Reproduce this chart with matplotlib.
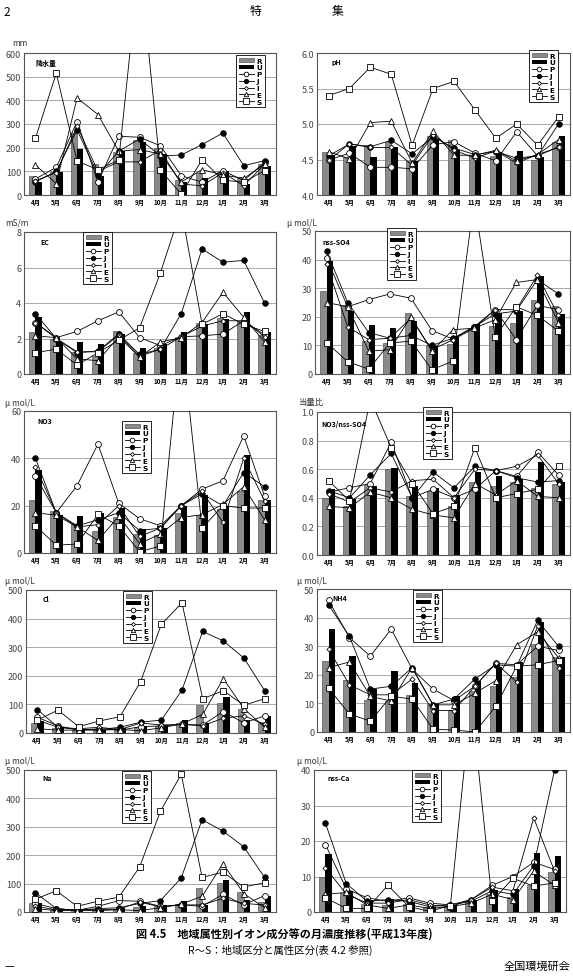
import matplotlib
matplotlib.use("Agg")
import matplotlib.pyplot as plt
import numpy as np
from matplotlib.lines import Line2D
from matplotlib.patches import Patch

plt.rcParams["font.family"] = ["Noto Sans CJK JP", "DejaVu Sans"]

months = ["4月", "5月", "6月", "7月", "8月", "9月", "10月", "11月", "12月", "1月", "2月", "3月"]
series = ["R", "U", "P", "J", "I", "E", "S"]

# 降水量 (mm)
rain_R = [79, 96, 262, 131, 180, 232, 199, 65, 93, 103, 76, 131]
rain_U = [54, 99, 194, 79, 187, 222, 173, 54, 70, 103, 46, 121]
rain_P = [68, 117, 310, 55, 248, 244, 208, 82, 54, 103, 61, 138]
rain_J = [55, 100, 275, 85, 185, 237, 165, 169, 213, 262, 124, 145]
rain_I = [60, 95, 290, 100, 140, 140, 190, 46, 39, 95, 39, 130]
rain_E = [127, 48, 410, 340, 185, 192, 173, 55, 107, 85, 70, 130]
rain_S = [240, 515, 143, 107, 148, 990, 105, 4, 149, 63, 54, 103]

# pH
ph_R = [4.60, 4.54, 4.71, 4.75, 4.48, 4.83, 4.77, 4.56, 4.55, 4.49, 4.49, 4.74]
ph_U = [4.56, 4.69, 4.53, 4.67, 4.48, 4.79, 4.64, 4.56, 4.60, 4.62, 4.53, 4.83]
ph_P = [4.49, 4.59, 4.39, 4.39, 4.37, 4.71, 4.75, 4.59, 4.48, 4.89, 4.55, 4.68]
ph_J = [4.55, 4.72, 4.68, 4.77, 4.58, 4.82, 4.66, 4.57, 4.61, 4.52, 4.55, 5.00]
ph_I = [4.49, 4.72, 4.67, 4.67, 4.42, 4.85, 4.63, 4.52, 4.62, 4.45, 4.57, 4.67]
ph_E = [4.61, 4.51, 5.02, 5.04, 4.45, 4.90, 4.56, 4.56, 4.63, 4.48, 4.57, 4.78]
ph_S = [5.4, 5.5, 5.8, 5.7, 4.7, 5.5, 5.6, 5.2, 4.8, 5.0, 4.7, 5.1]

# EC (mS/m)
ec_R = [2.34, 2.0, 1.22, 1.03, 2.43, 1.18, 1.44, 2.06, 2.9, 3.13, 3.0, 2.19]
ec_U = [3.22, 1.82, 1.82, 1.69, 2.25, 1.44, 1.69, 2.34, 2.81, 3.09, 3.5, 2.38]
ec_P = [2.9, 2.05, 2.4, 3.0, 3.5, 2.05, 1.6, 2.1, 2.15, 2.25, 3.0, 2.2]
ec_J = [3.4, 2.0, 1.2, 1.3, 2.25, 1.1, 1.4, 3.4, 7.05, 6.3, 6.4, 4.0]
ec_I = [2.9, 2.0, 1.25, 1.25, 2.2, 1.0, 1.4, 2.1, 2.7, 3.0, 3.0, 2.1]
ec_E = [2.15, 2.05, 0.85, 0.75, 2.1, 0.95, 1.8, 2.05, 2.9, 4.6, 3.2, 1.8]
ec_S = [1.2, 1.4, 0.5, 1.2, 1.9, 2.6, 5.7, 9.3, 2.8, 3.4, 2.8, 2.4]

# nss-SO4 (umol/L)
so4_R = [29, 24, 11.5, 11, 21.5, 10, 10.4, 15.6, 16.8, 18, 26, 23.8]
so4_U = [39.5, 22, 17, 16, 18.5, 9.8, 13, 17.4, 21.4, 22, 34.3, 20.9]
so4_P = [40.5, 23.5, 26, 28, 26.5, 15.2, 12.2, 16.5, 22.5, 12, 24, 22.5]
so4_J = [43, 25, 14.5, 12.5, 13.5, 10, 12.5, 16.5, 21, 22, 33, 28]
so4_I = [38.5, 16.5, 12, 12.5, 19.5, 8.5, 12, 16, 22.5, 22.5, 34.5, 20.5]
so4_E = [25, 23.5, 8, 8.5, 20, 8, 15.5, 16, 19, 32, 33, 18]
so4_S = [11, 4.3, 1.7, 10.8, 11.5, 1.5, 4.5, 61, 13, 23.5, 20.5, 15]

# NO3 (umol/L)
no3_R = [22.5, 17.6, 12.4, 9.2, 15.2, 7.9, 7.7, 17, 16.2, 18.5, 26.2, 22.3]
no3_U = [35, 16.2, 15.6, 17, 19, 10.3, 10.6, 19.7, 24.6, 19.7, 41.5, 22.5]
no3_P = [32.5, 17, 28.5, 46, 21, 14.5, 11.5, 20, 27, 30.5, 49.5, 24]
no3_J = [40, 17, 11.5, 14, 17, 9.5, 10.5, 20, 25, 20, 34, 28]
no3_I = [36.5, 17, 11, 12, 20, 7, 10.5, 20, 26, 13, 40, 22]
no3_E = [17, 16, 11, 5.3, 15.5, 4, 8, 15, 16.2, 20.5, 28, 14]
no3_S = [11.5, 3.3, 3.8, 16.3, 11.5, 0.5, 3, 93, 10.5, 20, 19, 19]

# NO3/nss-SO4 (当量比)
ratio_R = [0.40, 0.34, 0.49, 0.60, 0.41, 0.45, 0.34, 0.51, 0.48, 0.51, 0.47, 0.50]
ratio_U = [0.46, 0.39, 0.48, 0.61, 0.48, 0.47, 0.42, 0.58, 0.55, 0.53, 0.65, 0.51]
ratio_P = [0.44, 0.47, 0.50, 0.79, 0.40, 0.46, 0.40, 0.46, 0.59, 0.55, 0.72, 0.56]
ratio_J = [0.45, 0.40, 0.56, 0.71, 0.40, 0.58, 0.47, 0.62, 0.59, 0.54, 0.51, 0.52]
ratio_I = [0.43, 0.37, 0.47, 0.44, 0.52, 0.53, 0.40, 0.60, 0.59, 0.62, 0.70, 0.50]
ratio_E = [0.34, 0.33, 0.44, 0.40, 0.32, 0.28, 0.26, 0.50, 0.42, 0.52, 0.41, 0.40]
ratio_S = [0.52, 0.38, 1.09, 0.75, 0.50, 0.29, 0.34, 0.75, 0.40, 0.43, 0.46, 0.62]

# Cl (umol/L)
cl_R = [35, 16, 12, 12, 16, 20, 26, 35, 98, 105, 84, 37]
cl_U = [43, 20, 14, 12, 16, 26, 28, 47, 35, 127, 45, 60]
cl_P = [55, 25, 10, 15, 10, 22, 25, 30, 28, 75, 35, 60]
cl_J = [82, 20, 12, 12, 20, 38, 45, 150, 355, 322, 262, 148]
cl_I = [45, 20, 15, 20, 12, 35, 28, 30, 25, 52, 60, 30]
cl_E = [15, 10, 10, 10, 12, 8, 18, 32, 65, 190, 85, 20]
cl_S = [45, 80, 22, 42, 57, 180, 380, 455, 120, 148, 97, 120]

# NH4 (umol/L)
nh4_R = [25, 18.3, 11.3, 11, 13, 9.9, 7.8, 14.5, 16, 19.2, 30.8, 26.2]
nh4_U = [36, 26.5, 15.1, 21.5, 17.2, 9.9, 12.6, 17.7, 22.7, 24.4, 38.6, 26.2]
nh4_P = [46, 33, 26.5, 36, 22, 15, 11, 16, 24, 23.5, 30, 28.5]
nh4_J = [44.5, 33.5, 15, 16, 22.5, 9.5, 11.5, 18.5, 23.5, 23, 39, 30]
nh4_I = [29, 16.5, 13, 13, 18.5, 7.5, 7.5, 16, 24, 17.5, 37, 22.5]
nh4_E = [22.5, 24.5, 12.5, 10.8, 22.5, 9.5, 9.5, 13.5, 18, 30.5, 35, 26]
nh4_S = [15.3, 6.3, 3.8, 12.5, 11.5, 1, 0.7, 0, 9, 23, 23.5, 25]

# Na (umol/L)
na_R = [33, 12, 6, 6, 9, 18, 21, 29, 85, 102, 72, 35]
na_U = [33, 12, 6, 6, 14, 21, 26, 37, 26, 114, 41, 58]
na_P = [30, 12, 6, 20, 40, 38, 20, 25, 20, 62, 25, 58]
na_J = [68, 12, 6, 12, 15, 30, 40, 120, 325, 285, 230, 122]
na_I = [20, 8, 8, 8, 10, 35, 18, 25, 25, 48, 30, 25]
na_E = [12, 5, 5, 5, 8, 5, 15, 28, 55, 170, 65, 15]
na_S = [45, 75, 20, 38, 52, 158, 355, 485, 122, 140, 88, 103]

# nss-Ca (umol/L)
ca_R = [9.8, 5.4, 2.3, 2.1, 2.3, 1.4, 1.7, 3, 5.1, 4.2, 7.5, 11.2]
ca_U = [16.4, 5.8, 3.3, 3.6, 2.8, 1.4, 1.9, 3.3, 6.1, 6.5, 16.6, 15.7]
ca_P = [19, 6.5, 4, 3, 4, 2.5, 2, 3.5, 7.5, 10, 14, 12]
ca_J = [25, 8, 3, 3.5, 3, 1.5, 2, 3, 6, 5, 13, 40]
ca_I = [12.5, 5, 2.5, 2.5, 3.5, 2, 1.5, 3.5, 7, 6, 26.5, 11.5]
ca_E = [5, 5.5, 2, 1, 2, 1, 1.5, 2.5, 5, 3.5, 11.5, 7.5]
ca_S = [4, 1, 1, 7.5, 1.5, 0.2, 1.8, 60, 3, 9.5, 7.3, 8.2]

W, H = 573, 979

markerStyle = {
    "P": dict(marker="o", markersize=4.2, markerfacecolor="white"),
    "J": dict(marker="o", markersize=4.0, markerfacecolor="black"),
    "I": dict(marker="D", markersize=2.6, markerfacecolor="white"),
    "E": dict(marker="^", markersize=4.0, markerfacecolor="white"),
    "S": dict(marker="s", markersize=4.6, markerfacecolor="white"),
}


def FigRect(l, t, r, b):
    return [l / W, 1 - b / H, (r - l) / W, (b - t) / H]


def DrawPanel(fig, box, values, ylim, yticks, fmt, legendAt, name, nameAt, unit=None, unitAt=None):
    ax = fig.add_axes(FigRect(*box))
    x = np.arange(len(months))

    ax.bar(x - 0.15, values[0], width=0.3, color="#8a8a8a", edgecolor="#3a3a3a", linewidth=0.4, zorder=2)
    ax.bar(x + 0.15, values[1], width=0.3, color="black", zorder=2)
    for key, vals in zip("PJIES", values[2:]):
        ax.plot(x, vals, color="black", linewidth=0.6, markeredgecolor="black",
                markeredgewidth=0.6, zorder=3, **markerStyle[key])

    ax.set_xlim(-0.55, 11.55)
    ax.set_ylim(*ylim)
    ax.set_yticks(yticks)
    ax.set_yticklabels([fmt.format(v) for v in yticks], fontsize=6.5, color="#444444")
    ax.set_xticks(x)
    ax.set_xticklabels(months, fontsize=4.5, fontweight="bold")
    ax.tick_params(axis="both", length=0, pad=2)
    ax.yaxis.grid(True, color="#9a9a9a", linewidth=0.6)
    ax.set_axisbelow(True)
    for spine in ax.spines.values():
        spine.set_color("#555555")
        spine.set_linewidth(0.8)

    handles = [
        Patch(facecolor="#8a8a8a", edgecolor="#3a3a3a", linewidth=0.4),
        Patch(facecolor="black"),
    ]
    for key in "PJIES":
        handles.append(Line2D([], [], color="black", linewidth=0.6, markeredgecolor="black",
                              markeredgewidth=0.6, **markerStyle[key]))
    legend = ax.legend(handles, series, loc="upper left",
                       bbox_to_anchor=(legendAt[0] / W, 1 - legendAt[1] / H),
                       bbox_transform=fig.transFigure,
                       prop={"size": 5.2, "weight": "bold", "family": "DejaVu Sans"},
                       fancybox=False, edgecolor="black", framealpha=1, borderpad=0.35,
                       labelspacing=0.12, handlelength=2.2, handleheight=0.6,
                       handletextpad=0.3, borderaxespad=0, markerscale=0.8)
    legend.get_frame().set_linewidth(0.6)

    fig.text(nameAt[0] / W, 1 - nameAt[1] / H, name, fontsize=5, fontweight="bold", va="center")
    if unit:
        fig.text(unitAt[0] / W, 1 - unitAt[1] / H, unit, fontsize=6, color="#333333", va="center")
    return ax


fig = plt.figure(figsize=(W / 100, H / 100), dpi=100)

DrawPanel(fig, (24, 54, 276, 196),
          [rain_R, rain_U, rain_P, rain_J, rain_I, rain_E, rain_S],
          (0, 600), [0, 100, 200, 300, 400, 500, 600], "{:.0f}",
          (236, 56), "降水量", (36, 63), "mm", (12, 44))
DrawPanel(fig, (317, 54, 570, 196),
          [ph_R, ph_U, ph_P, ph_J, ph_I, ph_E, ph_S],
          (4.0, 6.0), [4.0, 4.5, 5.0, 5.5, 6.0], "{:.1f}",
          (529, 51), "pH", (332, 63))
DrawPanel(fig, (24, 233, 276, 375),
          [ec_R, ec_U, ec_P, ec_J, ec_I, ec_E, ec_S],
          (0, 8), [0, 2, 4, 6, 8], "{:.0f}",
          (83, 233), "EC", (40, 243), "mS/m", (5, 223))
DrawPanel(fig, (315, 232, 570, 375),
          [so4_R, so4_U, so4_P, so4_J, so4_I, so4_E, so4_S],
          (0, 50), [0, 10, 20, 30, 40, 50], "{:.0f}",
          (387, 229), "nss-SO4", (323, 243), "μ mol/L", (287, 223))
DrawPanel(fig, (24, 412, 276, 554),
          [no3_R, no3_U, no3_P, no3_J, no3_I, no3_E, no3_S],
          (0, 60), [0, 20, 40, 60], "{:.0f}",
          (122, 422), "NO3", (37, 422), "μ mol/L", (5, 403))
DrawPanel(fig, (317, 413, 570, 556),
          [ratio_R, ratio_U, ratio_P, ratio_J, ratio_I, ratio_E, ratio_S],
          (0, 1.0), [0.0, 0.2, 0.4, 0.6, 0.8, 1.0], "{:.1f}",
          (423, 408), "NO3/nss-SO4", (321, 424), "当量比", (298, 403))
DrawPanel(fig, (26, 591, 276, 734),
          [cl_R, cl_U, cl_P, cl_J, cl_I, cl_E, cl_S],
          (0, 500), [0, 100, 200, 300, 400, 500], "{:.0f}",
          (123, 592), "Cl", (43, 600), "μ mol/L", (5, 582))
DrawPanel(fig, (317, 590, 570, 733),
          [nh4_R, nh4_U, nh4_P, nh4_J, nh4_I, nh4_E, nh4_S],
          (0, 50), [0, 10, 20, 30, 40, 50], "{:.0f}",
          (413, 591), "NH4", (332, 599), "μ mol/L", (297, 582))
DrawPanel(fig, (24, 771, 276, 913),
          [na_R, na_U, na_P, na_J, na_I, na_E, na_S],
          (0, 500), [0, 100, 200, 300, 400, 500], "{:.0f}",
          (122, 772), "Na", (42, 779), "μ mol/L", (5, 762))
DrawPanel(fig, (314, 771, 566, 913),
          [ca_R, ca_U, ca_P, ca_J, ca_I, ca_E, ca_S],
          (0, 40), [0, 10, 20, 30, 40], "{:.0f}",
          (412, 771), "nss-Ca", (327, 779), "μ mol/L", (297, 762))

# page header, caption and footer
fig.text(3 / W, 1 - 12 / H, "2", fontsize=8.5, va="center")
fig.text(250 / W, 1 - 12 / H, "特", fontsize=8.5, va="center")
fig.text(332 / W, 1 - 12 / H, "集", fontsize=8.5, va="center")
fig.text(284 / W, 1 - 934 / H, "図 4.5　地域属性別イオン成分等の月濃度推移(平成13年度)",
         fontsize=8, fontweight="bold", ha="center", va="center")
fig.text(280 / W, 1 - 950 / H, "R～S：地域区分と属性区分(表 4.2 参照)",
         fontsize=7.5, ha="center", va="center")
fig.text(4 / W, 1 - 967 / H, "—", fontsize=8, va="center")
fig.text(570 / W, 1 - 967 / H, "全国環境研会", fontsize=8, ha="right", va="center")

fig.savefig("out.png", dpi=100)
